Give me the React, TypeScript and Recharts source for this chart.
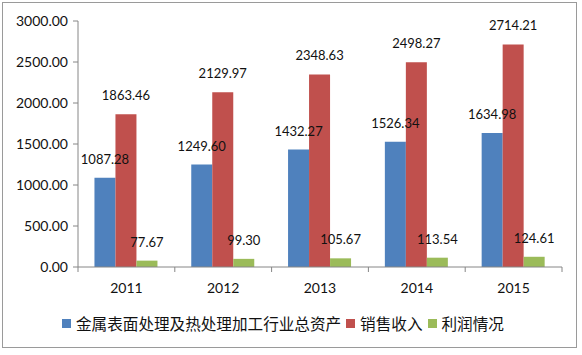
import { BarChart, Bar, XAxis, YAxis, Legend, LabelList } from 'recharts';

const years = ['2011', '2012', '2013', '2014', '2015'];
const assets = [1087.28, 1249.6, 1432.27, 1526.34, 1634.98];
const sales = [1863.46, 2129.97, 2348.63, 2498.27, 2714.21];
const profit = [77.67, 99.3, 105.67, 113.54, 124.61];
const yTicks = [0, 500, 1000, 1500, 2000, 2500, 3000];

const data = years.map((year, i) => ({
  year,
  assets: assets[i],
  sales: sales[i],
  profit: profit[i],
}));

const W = 582;
const H = 355;
const LEFT = 78;
const RIGHT = 20;
const BAND = (W - LEFT - RIGHT) / years.length;
const AXIS = '#868686';
const FONT = 'Lato, "Noto Sans CJK SC", sans-serif';
const CJK = '"Noto Sans CJK SC", sans-serif';

function XTick(props: any) {
  const { x, y, payload, index } = props;
  const half = BAND / 2;
  return (
    <g>
      <line x1={x - half} y1={y - 8} x2={x - half} y2={y - 3} stroke={AXIS} />
      {index === years.length - 1 && (
        <line x1={x + half} y1={y - 8} x2={x + half} y2={y - 3} stroke={AXIS} />
      )}
      <text x={x} y={y + 18} textAnchor="middle" fill="#111" fontSize={14} fontFamily={FONT}>
        {payload.value}
      </text>
    </g>
  );
}

function LegendContent(props: any) {
  const { payload } = props;
  return (
    <div style={{ display: 'flex', alignItems: 'center', fontFamily: CJK, fontSize: 15.6, color: '#111', whiteSpace: 'nowrap' }}>
      {(payload || []).map((item: any) => (
        <span key={item.value} style={{ display: 'flex', alignItems: 'center', marginRight: 5 }}>
          <span style={{ width: 9, height: 9, background: item.color, marginRight: 5, display: 'inline-block' }} />
          {item.value}
        </span>
      ))}
    </div>
  );
}

const fmt = (v: any) => Number(v).toFixed(2);

export default function App() {
  return (
    <div style={{ position: 'absolute', left: 0, top: 0, width: W, height: H, background: '#fff' }}>
      <div
        style={{
          position: 'absolute',
          left: 2,
          top: 2,
          width: 575,
          height: 346,
          border: '1px solid #9a9a9a',
          boxSizing: 'border-box',
        }}
      />
      <BarChart
        width={W}
        height={H}
        data={data}
        margin={{ top: 21, right: RIGHT, left: 0, bottom: 36 }}
        barCategoryGap="17%"
        barGap={0}
        style={{ fontFamily: FONT }}
      >
        <XAxis
          dataKey="year"
          stroke={AXIS}
          tickLine={false}
          tick={<XTick />}
          height={30}
        />
        <YAxis
          width={LEFT}
          domain={[0, 3000]}
          ticks={yTicks}
          stroke={AXIS}
          tickSize={5}
          tickMargin={5}
          tickFormatter={fmt}
          tick={{ fill: '#111', fontSize: 14, fontFamily: FONT }}
          interval={0}
        />
        <Legend
          content={<LegendContent />}
          itemSorter={null as any}
          wrapperStyle={{ top: 312, left: 62, width: 500, height: 22 }}
        />
        <Bar dataKey="assets" name="金属表面处理及热处理加工行业总资产" fill="#4F81BD" isAnimationActive={false}>
          <LabelList dataKey="assets" position="top" offset={14} formatter={fmt} fill="#111" fontSize={13} fontFamily={FONT} />
        </Bar>
        <Bar dataKey="sales" name="销售收入" fill="#C0504D" isAnimationActive={false}>
          <LabelList dataKey="sales" position="top" offset={14} formatter={fmt} fill="#111" fontSize={13} fontFamily={FONT} />
        </Bar>
        <Bar dataKey="profit" name="利润情况" fill="#9BBB59" isAnimationActive={false}>
          <LabelList dataKey="profit" position="top" offset={14} formatter={fmt} fill="#111" fontSize={13} fontFamily={FONT} />
        </Bar>
      </BarChart>
    </div>
  );
}
